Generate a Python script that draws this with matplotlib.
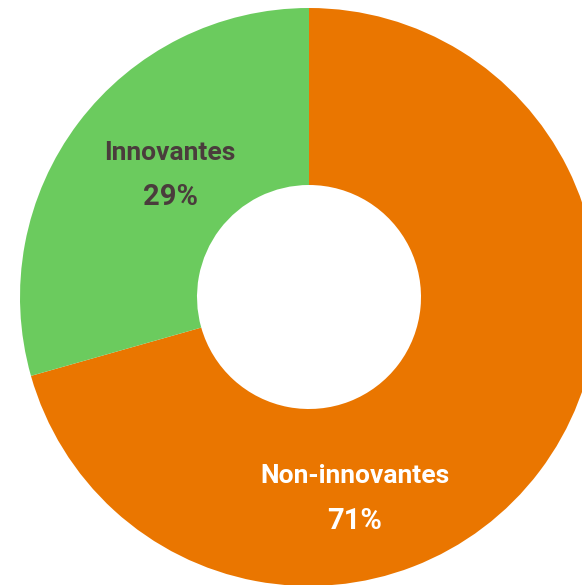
import matplotlib
matplotlib.use("Agg")
import matplotlib.pyplot as plt

labels = ["Non-innovantes", "Innovantes"]
values = [70.6, 29.4]
colors = ["#EA7600", "#6BCB5E"]
text_colors = ["white", "#4A3C3C"]

W, H = 582, 585
fig = plt.figure(figsize=(W / 100, H / 100), dpi=100)
ax = fig.add_axes([0, 0, 1, 1])

cx, cy = 309, H - 297
R = 289
hole = 112

wedges, _ = ax.pie(values, colors=colors, startangle=90, counterclock=False,
                   center=(cx, cy), radius=R, frame=True,
                   wedgeprops=dict(width=R - hole, linewidth=0))
ax.set_xlim(0, W)
ax.set_ylim(0, H)
ax.set_aspect("equal")
ax.axis("off")

label_pos = [(355, 476, 521), (170, 153, 197)]
for lab, v, tc, (x, y1, y2) in zip(labels, values, text_colors, label_pos):
    ax.text(x, H - y1, lab, ha="center", va="center", color=tc,
            fontsize=19, fontweight="bold", family="Roboto")
    ax.text(x, H - y2, f"{round(v)}%", ha="center", va="center", color=tc,
            fontsize=21, fontweight="bold", family="Roboto")

fig.savefig("out.png", dpi=100)
